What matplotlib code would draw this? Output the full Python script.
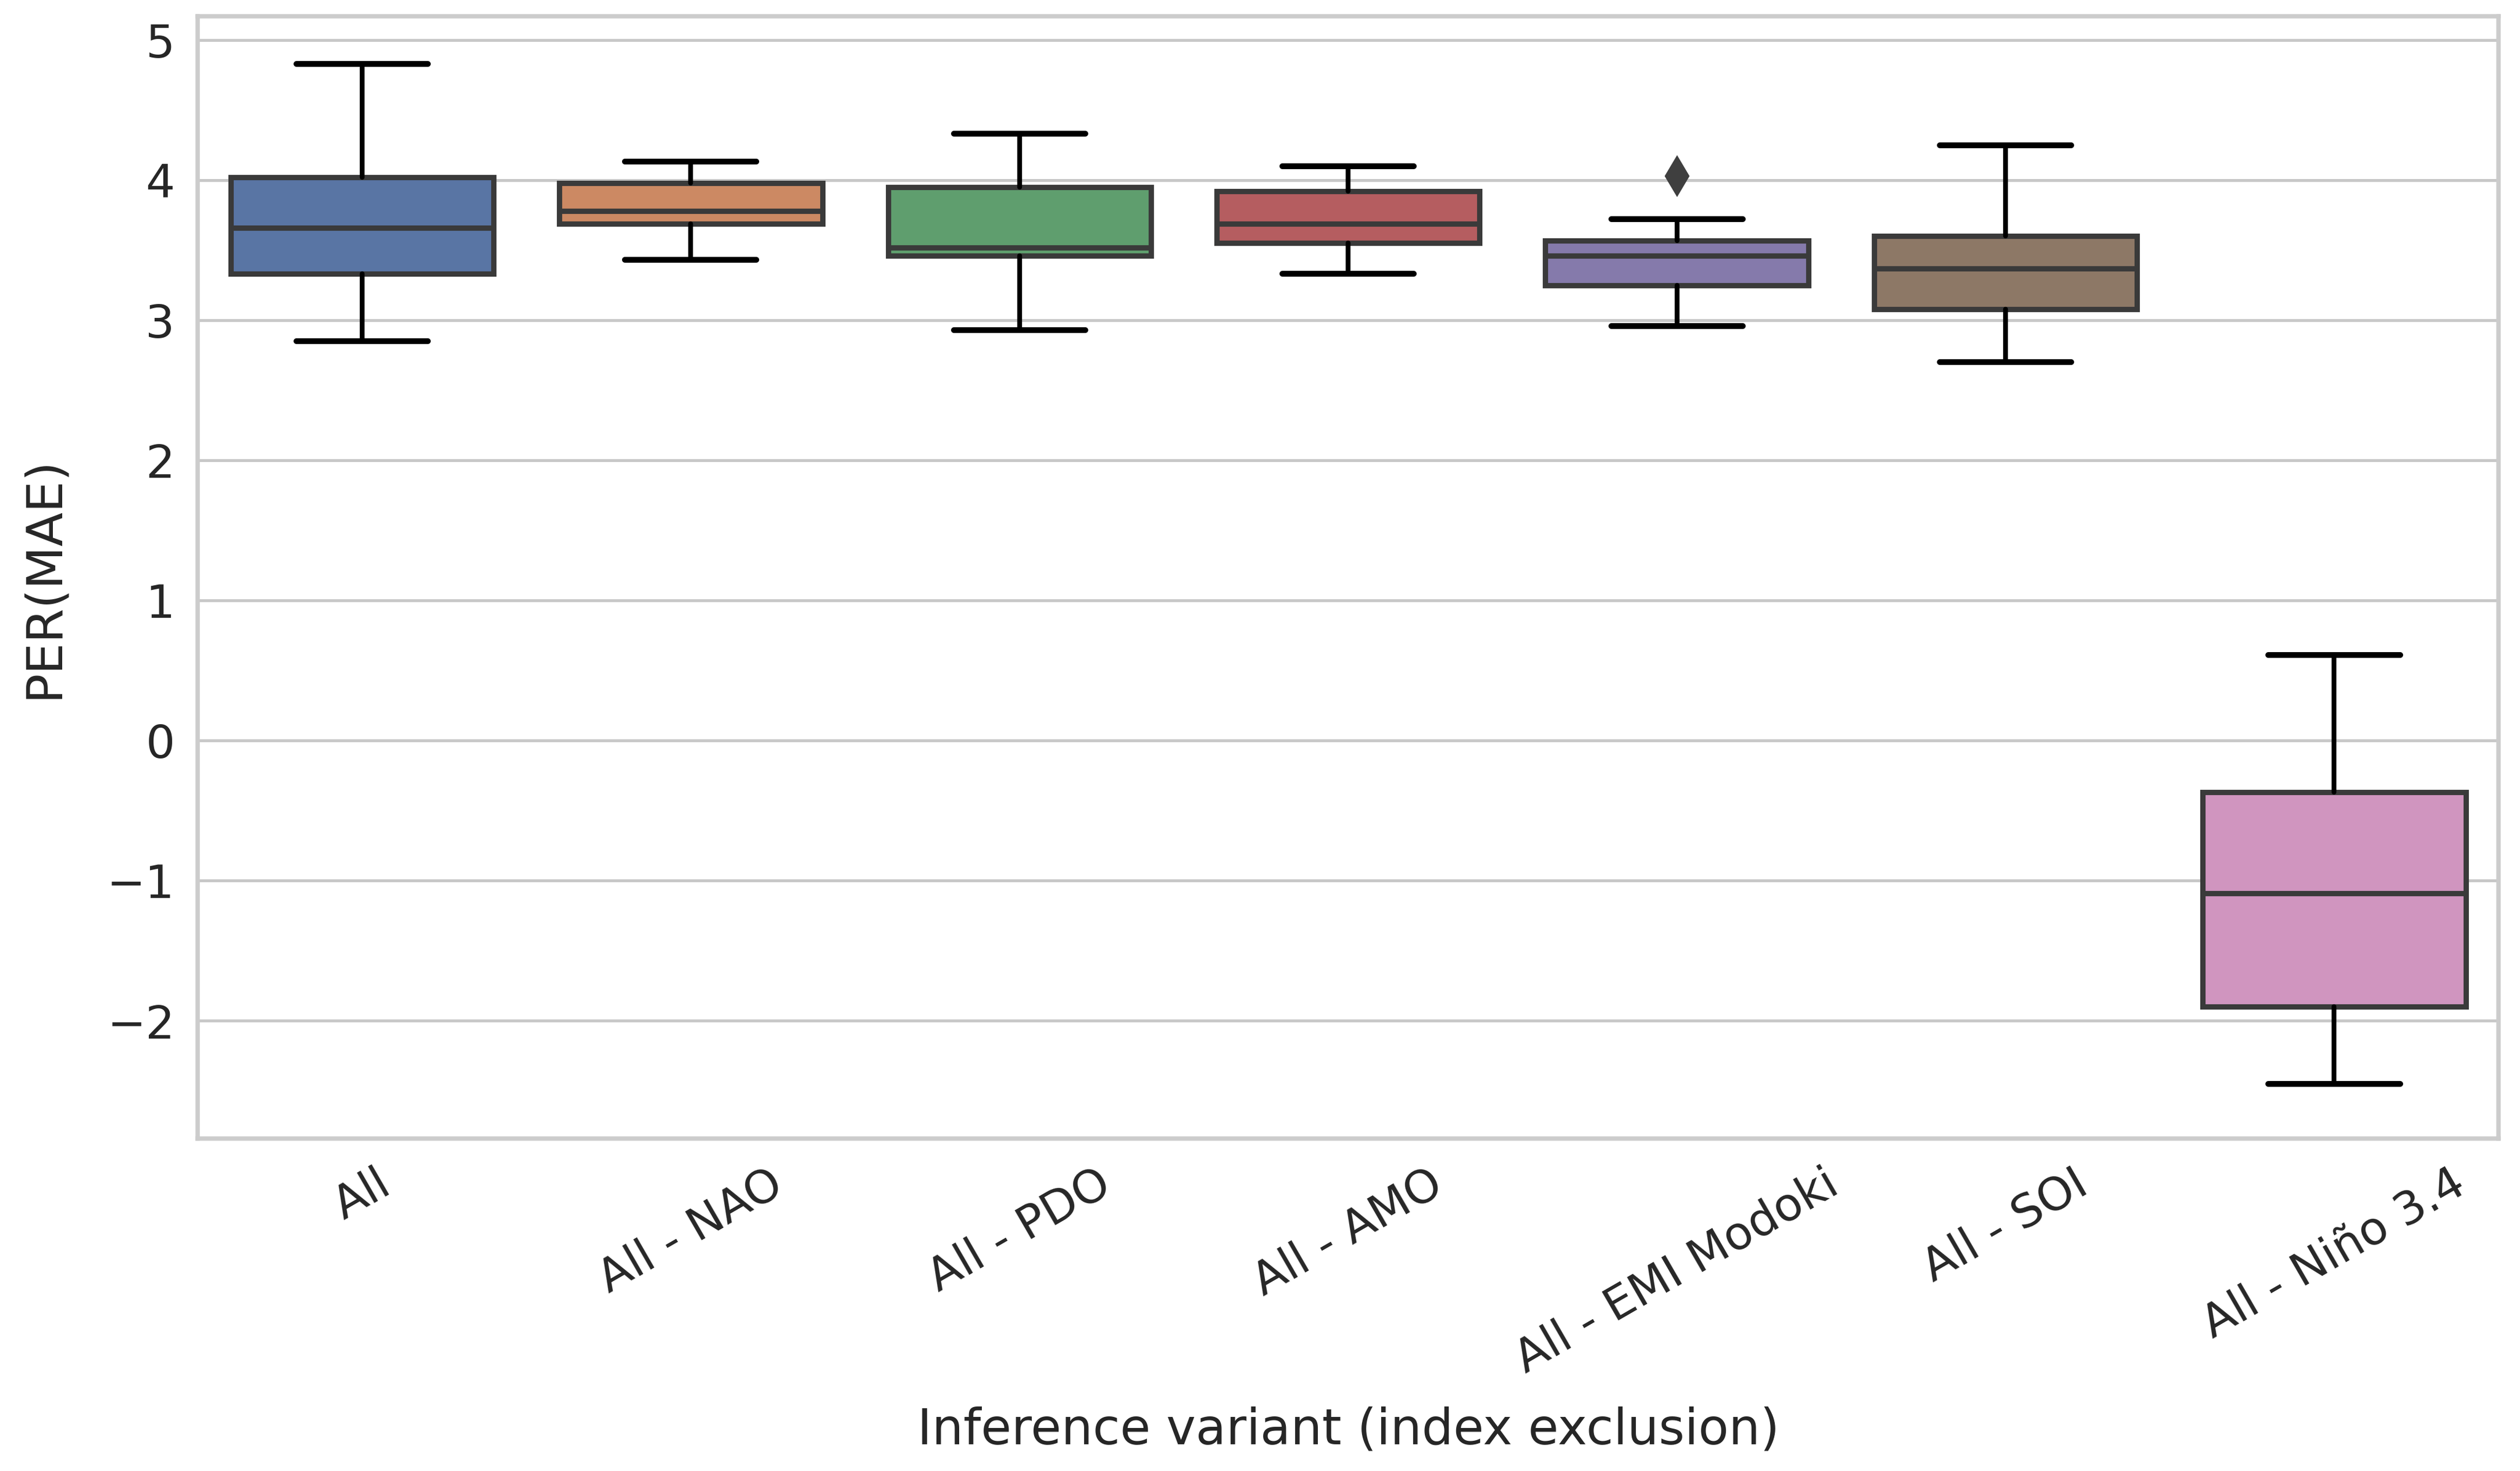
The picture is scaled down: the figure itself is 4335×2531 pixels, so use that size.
import numpy as np
import matplotlib
matplotlib.use('Agg')
from matplotlib import pyplot as plt
import seaborn as sns

# Box statistics:
variants = ['All', 'All - NAO', 'All - PDO', 'All - AMO', 'All - EMI Modoki', 'All - SOI', 'All - Niño 3.4']
whisker_low = [2.85, 3.43, 2.93, 3.33, 2.96, 2.70, -2.45]
q1 = [3.33, 3.69, 3.46, 3.55, 3.25, 3.08, -1.90]
medians = [3.66, 3.78, 3.52, 3.69, 3.46, 3.37, -1.09]
q3 = [4.02, 3.98, 3.95, 3.92, 3.57, 3.60, -0.37]
whisker_high = [4.83, 4.13, 4.33, 4.10, 3.72, 4.25, 0.61]
outliers = [[], [], [], [], [4.03], [], []]
colors = ['#5975a4', '#cc8963', '#5f9e6e', '#b55d60', '#857aab', '#8d7866', '#d095bf']

sns.set_theme(style='whitegrid')
plt.rcParams['font.family'] = ['DejaVu Sans']

fig = plt.figure(figsize=(14.45, 8.437), dpi=300)
ax = fig.add_axes([0.0785, 0.226, 0.913, 0.763])

# Build stats for bxp:
stats = []
for i in range(len(variants)):
    stats.append({'label': variants[i], 'whislo': whisker_low[i], 'q1': q1[i], 'med': medians[i],
                  'q3': q3[i], 'whishi': whisker_high[i], 'fliers': outliers[i]})

bp = ax.bxp(stats, positions=np.arange(len(variants)), widths=0.8, patch_artist=True,
            boxprops=dict(linewidth=2.2, edgecolor='#3a3a3a'),
            medianprops=dict(linewidth=2.2, color='#3a3a3a'),
            whiskerprops=dict(linewidth=2.0, color='black'),
            capprops=dict(linewidth=2.4, color='black'),
            flierprops=dict(marker='d', markersize=11, markerfacecolor='#3f3f3f',
                            markeredgecolor='#3f3f3f'))
for patch, c in zip(bp['boxes'], colors):
    patch.set_facecolor(c)
for cap in bp['caps']:
    x0, x1 = cap.get_xdata()
    mid = (x0 + x1) / 2
    cap.set_xdata([mid - 0.2, mid + 0.2])

## Limits, ticks, labels:
ax.set_xlim(-0.5, len(variants) - 0.5)
ax.set_ylim(-2.84, 5.17)
ax.set_yticks(np.arange(-2, 6, 1))
ax.set_xticks(np.arange(len(variants)))
ax.set_xticklabels(variants, rotation=30, ha='center', fontsize=19, color='#262626')
ax.tick_params(axis='y', labelsize=19, labelcolor='#262626')
ax.grid(axis='x', visible=False)
ax.grid(axis='y', color='#c8c8c8', linewidth=1.2)
for s in ax.spines.values():
    s.set_color('#cccccc')
    s.set_linewidth(1.8)
ax.set_xlabel('Inference variant (index exclusion)', fontsize=20.5, color='#262626', labelpad=10)
ax.set_ylabel('PER(MAE)', fontsize=20.5, color='#262626', labelpad=16)

plt.savefig('out.png', dpi=300)
plt.close(fig)
